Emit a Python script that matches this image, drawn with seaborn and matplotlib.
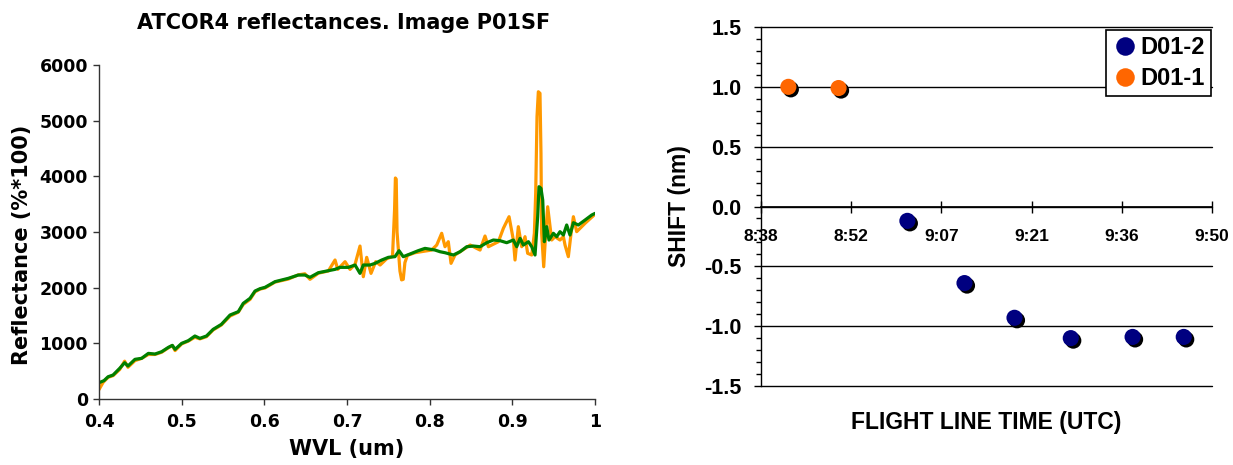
"""
Two-panel figure: ATCOR4 reflectance spectra (left) and spectral shift
versus flight line time (right).
"""
import numpy as np
import pandas as pd
import matplotlib
matplotlib.use("Agg")  # no display
import matplotlib.pyplot as plt
import matplotlib.patheffects as pe
from matplotlib.ticker import MultipleLocator
import seaborn as sns

# ------------------------------------------------------------
# Left panel data: reflectance (%*100) vs wavelength (um)
# ------------------------------------------------------------
wvl_green = [0.400, 0.406, 0.411, 0.417, 0.425, 0.431, 0.435, 0.4435, 0.4516, 0.4597,
             0.4677, 0.4758, 0.4839, 0.4887, 0.492, 0.500, 0.508, 0.516, 0.522, 0.530,
             0.538, 0.548, 0.5585, 0.5685, 0.5745, 0.5827, 0.5887, 0.5948, 0.6008, 0.6129,
             0.629, 0.641, 0.649, 0.6552, 0.6653, 0.6774, 0.6855, 0.6915, 0.7016, 0.7097,
             0.7157, 0.7197, 0.7278, 0.7339, 0.742, 0.750, 0.758, 0.7629, 0.768, 0.7762,
             0.786, 0.7943, 0.8064, 0.8125, 0.8185, 0.8286, 0.8367, 0.8448, 0.8528, 0.8609,
             0.869, 0.877, 0.8851, 0.8931, 0.9012, 0.9052, 0.9093, 0.9133, 0.9194, 0.9234,
             0.9274, 0.9306, 0.9322, 0.9346, 0.9367, 0.9387, 0.9415, 0.9443, 0.9496, 0.9536,
             0.9576, 0.9617, 0.9657, 0.9697, 0.9738, 0.9798, 0.9879, 0.996, 1.000]
refl_green = [293, 330, 400, 431, 551, 652, 593, 713, 731, 820,
              808, 850, 928, 964, 892, 1000, 1048, 1132, 1090, 1132,
              1251, 1341, 1509, 1569, 1719, 1809, 1940, 1982, 2006, 2108,
              2168, 2227, 2227, 2186, 2269, 2305, 2329, 2365, 2365, 2407,
              2257, 2407, 2407, 2437, 2497, 2545, 2557, 2664, 2557, 2605,
              2664, 2706, 2676, 2646, 2628, 2587, 2646, 2736, 2748, 2736,
              2808, 2856, 2844, 2808, 2856, 2736, 2886, 2766, 2826, 2736,
              2587, 3275, 3814, 3785, 3575, 2826, 3096, 2856, 2977, 2916,
              3006, 2946, 3126, 2946, 3167, 3126, 3215, 3305, 3335]

wvl_orange = [0.400, 0.405, 0.411, 0.417, 0.425, 0.431, 0.435, 0.4435, 0.4516, 0.4597,
              0.4677, 0.4758, 0.4839, 0.4887, 0.492, 0.500, 0.508, 0.516, 0.522, 0.530,
              0.538, 0.548, 0.5585, 0.5685, 0.5745, 0.5827, 0.5887, 0.5948, 0.6008, 0.6129,
              0.629, 0.641, 0.649, 0.6552, 0.6653, 0.6774, 0.6855, 0.6888, 0.6976, 0.7036,
              0.7097, 0.7157, 0.7197, 0.7238, 0.729, 0.7347, 0.740, 0.748, 0.755, 0.7575,
              0.7585, 0.7595, 0.7605, 0.762, 0.764, 0.766, 0.768, 0.770, 0.773, 0.7822,
              0.8023, 0.8085, 0.8145, 0.8185, 0.8225, 0.8258, 0.8306, 0.8367, 0.849, 0.8568,
              0.8609, 0.8669, 0.871, 0.8831, 0.8891, 0.896, 0.9012, 0.9032, 0.9072, 0.9113,
              0.9153, 0.9185, 0.9234, 0.9266, 0.9282, 0.9298, 0.9314, 0.9334, 0.9346, 0.9354,
              0.9379, 0.9403, 0.9427, 0.9456, 0.9476, 0.9516, 0.9576, 0.9617, 0.9637, 0.9677,
              0.971, 0.9738, 0.9778, 0.9879, 1.000]
refl_orange = [170, 300, 390, 420, 530, 680, 570, 690, 730, 800,
               800, 840, 920, 960, 870, 990, 1040, 1110, 1080, 1120,
               1240, 1330, 1490, 1560, 1700, 1790, 1925, 1975, 1995, 2100,
               2155, 2230, 2250, 2150, 2260, 2300, 2497, 2329, 2467, 2329,
               2420, 2748, 2197, 2545, 2257, 2467, 2407, 2520, 2560, 3400,
               3970, 3950, 3000, 2700, 2300, 2140, 2150, 2450, 2580, 2628,
               2676, 2766, 2977, 2736, 2826, 2437, 2587, 2646, 2766, 2706,
               2676, 2928, 2736, 2826, 3066, 3275, 2856, 2497, 3096, 2736,
               2916, 2617, 2587, 2977, 3695, 5072, 5520, 5491, 4413, 2977,
               2376, 2977, 3454, 3096, 2856, 2916, 2856, 2916, 2766, 2557,
               2977, 3275, 3006, 3156, 3320]

wvl_ticks = [0.4, 0.5, 0.6, 0.7, 0.8, 0.9, 1.0]
wvl_tick_labels = ["0.4", "0.5", "0.6", "0.7", "0.8", "0.9", "1"]

# ------------------------------------------------------------
# Right panel data: shift (nm) per flight line time (UTC)
# ------------------------------------------------------------
d012_times = ["9:01:46", "9:10:53", "9:18:52", "9:27:51", "9:37:43", "9:45:53"]
d012_shift = [-0.12, -0.64, -0.93, -1.10, -1.09, -1.09]
d011_times = ["8:42:46", "8:50:47"]
d011_shift = [1.00, 0.99]

time_ticks = [0.36, 0.37, 0.38, 0.39, 0.40, 0.41]  # fraction of day
time_labels = ["8:38", "8:52", "9:07", "9:21", "9:36", "9:50"]
shift_ticks = [-1.5, -1.0, -0.5, 0.0, 0.5, 1.0, 1.5]
shift_labels = ["-1.5", "-1.0", "-0.5", "0.0", "0.5", "1.0", "1.5"]


def day_fraction(t):
    h, m, s = (int(v) for v in t.split(":"))
    return (h * 3600 + m * 60 + s) / 86400.0


def style_labels(labels, size, family=None):
    for lab in labels:
        lab.set_fontsize(size)
        lab.set_fontweight("bold")
        if family:
            lab.set_fontfamily(family)


sns.set_theme(style="ticks")
plt.rcParams["font.family"] = ["DejaVu Sans"]
plt.rcParams.update({
    "text.color": "black",
    "axes.labelcolor": "black",
    "xtick.color": "black",
    "ytick.color": "black",
})

fig = plt.figure(figsize=(12.33, 4.65), dpi=100)
ax1 = fig.add_axes([0.0803, 0.1419, 0.4023, 0.7183])
ax2 = fig.add_axes([0.6172, 0.1699, 0.3658, 0.772])

# ---------------- left: spectra ----------------
sns.lineplot(x=wvl_orange, y=refl_orange, color="#FF9900", linewidth=2.3,
             estimator=None, sort=False, ax=ax1)
sns.lineplot(x=wvl_green, y=refl_green, color="#008000", linewidth=2.3,
             estimator=None, sort=False, ax=ax1)

ax1.set_xlim(0.4, 1.0)
ax1.set_ylim(0, 6000)
ax1.set_xticks(wvl_ticks, wvl_tick_labels)
ax1.set_yticks(range(0, 6001, 1000))
style_labels(ax1.get_xticklabels(), 12.5)
style_labels(ax1.get_yticklabels(), 12.5)
ax1.tick_params(axis="both", direction="out", length=4, width=1, color="#333333")
ax1.tick_params(axis="x", pad=6)
ax1.tick_params(axis="y", pad=4)
for side in ["left", "bottom"]:
    ax1.spines[side].set_color("#333333")
    ax1.spines[side].set_linewidth(1)
ax1.spines["top"].set_visible(False)
ax1.spines["right"].set_visible(False)
ax1.set_xlabel("WVL (um)", fontsize=15, fontweight="bold")
ax1.set_ylabel("Reflectance (%*100)", fontsize=15, fontweight="bold")
ax1.xaxis.set_label_coords(0.5, -0.12)
ax1.yaxis.set_label_coords(-0.135, 0.46)
fig.text(343.5 / 1233, 1 - 23 / 465, "ATCOR4 reflectances. Image P01SF",
         ha="center", va="center", fontsize=15, fontweight="bold")

# ---------------- right: shift vs time ----------------
df = pd.DataFrame({
    "time": [day_fraction(t) for t in d012_times + d011_times],
    "shift": d012_shift + d011_shift,
    "series": ["D01-2"] * len(d012_times) + ["D01-1"] * len(d011_times),
})
sns.scatterplot(data=df, x="time", y="shift", hue="series",
                hue_order=["D01-2", "D01-1"],
                palette={"D01-2": "#000080", "D01-1": "#FF6600"},
                s=135, edgecolor="none", linewidth=0, zorder=3, ax=ax2)
shadow = [pe.SimplePatchShadow(offset=(1.8, -1.8), shadow_rgbFace="black", alpha=1.0),
          pe.Normal()]
for coll in ax2.collections:
    coll.set_path_effects(shadow)

arial = "Liberation Sans"
# spine position first: moving it resets the tick labels
ax2.spines["bottom"].set_position(("data", 0))
ax2.spines["bottom"].set_color("black")
ax2.spines["left"].set_color("black")
ax2.spines["left"].set_linewidth(1)
ax2.spines["top"].set_visible(False)
ax2.spines["right"].set_visible(False)

ax2.set_xlim(0.36, 0.41)
ax2.set_ylim(-1.5, 1.5)
ax2.set_xticks(time_ticks, time_labels)
ax2.set_yticks(shift_ticks, shift_labels)
style_labels(ax2.get_xticklabels(), 12.5, arial)
style_labels(ax2.get_yticklabels(), 15.5, arial)
ax2.yaxis.set_minor_locator(MultipleLocator(0.1))
ax2.tick_params(axis="y", which="major", direction="out", length=5, width=1,
                color="black", pad=9)
ax2.tick_params(axis="y", which="minor", direction="out", length=3.5, width=1,
                color="black")
ax2.tick_params(axis="x", which="major", direction="inout", length=8, width=1,
                color="black", pad=12)
ax2.xaxis.grid(False)
ax2.yaxis.grid(True, color="black", linewidth=1)
for gl in ax2.get_ygridlines():
    gl.set_clip_on(False)
ax2.set_axisbelow(True)

ax2.set_xlabel("FLIGHT LINE TIME (UTC)", fontsize=16.5, fontweight="bold", family=arial)
ax2.set_ylabel("SHIFT (nm)", fontsize=16.5, fontweight="bold", family=arial)
ax2.xaxis.set_label_coords(0.5, -0.07)
ax2.yaxis.set_label_coords(-0.155, 0.5)

handles, labels = ax2.get_legend_handles_labels()
leg = ax2.legend(handles, labels, loc="upper right", bbox_to_anchor=(0.998, 0.992),
                 borderaxespad=0.0,
                 frameon=True, fancybox=False, framealpha=1, edgecolor="black",
                 prop={"family": arial, "weight": "bold", "size": 17},
                 handletextpad=0.1, borderpad=0.25, labelspacing=0.35,
                 handlelength=1.1, markerscale=1.15)
leg.get_frame().set_linewidth(1.2)

fig.savefig("out.png", dpi=100)
